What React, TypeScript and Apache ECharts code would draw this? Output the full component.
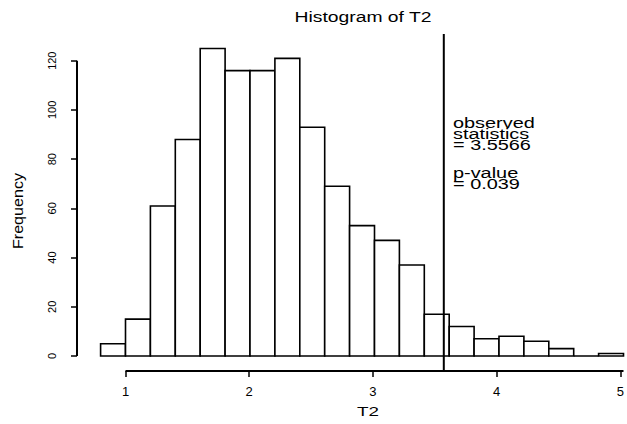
import React, { useEffect, useRef } from "react";
import * as echarts from "echarts";

// Histogram bins (T2) and counts
const binEdges = [0.8, 1.0, 1.2, 1.4, 1.6, 1.8, 2.0, 2.2, 2.4, 2.6, 2.8, 3.0, 3.2, 3.4, 3.6, 3.8, 4.0, 4.2, 4.4, 4.6, 4.8, 5.0];
const frequencies = [5, 15, 61, 88, 125, 116, 116, 121, 93, 69, 53, 47, 37, 17, 12, 7, 8, 6, 3, 0, 1];
const observedStatistic = 3.5566;
const xTicks = [1, 2, 3, 4, 5];
const yTicks = [0, 20, 40, 60, 80, 100, 120];
const titleText = "Histogram of T2";
const xLabel = "T2";
const yLabel = "Frequency";
const annotationLines = ["observed", "statistics", "= 3.5566", "p-value", "= 0.039"];

const FONT = "'Liberation Sans', Arial, Helvetica, sans-serif";

// main grid data range (slightly larger than the plot box so lines are not on its edges)
const X_MIN = 0.55422;
const X_MAX = 5.0281;
const Y_MIN = -9.35;
const Y_MAX = 130.9;
// plot box (R style) in data units
const BOX_X = 0.61044;
const BOX_Y = -6.1;

export default function App() {
  const ref = useRef<HTMLDivElement>(null);
  useEffect(() => {
    document.body.style.margin = "0";
    if (!ref.current) return;
    const chart = echarts.init(ref.current, null, { renderer: "svg" });

    const histData = frequencies.map((f, i) => [binEdges[i], binEdges[i + 1], f]);
    const annotY = [123.5, 134.5, 145.5, 173.5, 184.5];
    const lineSegments = [
      [xTicks[0], BOX_Y, xTicks[xTicks.length - 1], BOX_Y, 2],
      [BOX_X, yTicks[0], BOX_X, yTicks[yTicks.length - 1], 2],
      [observedStatistic, BOX_Y, observedStatistic, Y_MAX, 2],
    ];

    const option: any = {
      animation: false,
      grid: [
        { left: 70, right: 0, top: 34, bottom: 45 },
        { left: 125.5, width: 498, top: 300, bottom: 53 },
        { left: 77, width: 10, top: 60.7, bottom: 68 },
      ],
      xAxis: [
        { gridIndex: 0, type: "value", min: X_MIN, max: X_MAX, show: false },
        {
          gridIndex: 1,
          type: "value",
          min: xTicks[0],
          max: xTicks[xTicks.length - 1],
          interval: 1,
          axisLine: { show: false },
          axisTick: { show: true, length: 6, lineStyle: { color: "#000", width: 1.5 } },
          axisLabel: { color: "#000", fontSize: 13, fontFamily: FONT, margin: 14 },
          splitLine: { show: false },
        },
        { gridIndex: 2, type: "value", min: 0, max: 1, show: false },
      ],
      yAxis: [
        { gridIndex: 0, type: "value", min: Y_MIN, max: Y_MAX, show: false },
        { gridIndex: 1, type: "value", min: 0, max: 1, show: false },
        {
          gridIndex: 2,
          type: "value",
          min: yTicks[0],
          max: yTicks[yTicks.length - 1],
          interval: 20,
          axisLine: { show: false },
          axisTick: { show: true, length: 6, lineStyle: { color: "#000", width: 1.5 } },
          axisLabel: { color: "#000", fontSize: 11, fontFamily: FONT, rotate: 90, margin: 20 },
          splitLine: { show: false },
        },
      ],
      series: [
        {
          type: "custom",
          xAxisIndex: 0,
          yAxisIndex: 0,
          data: histData,
          encode: { x: [0, 1], y: 2 },
          clip: false,
          renderItem: (params: any, api: any) => {
            const p0 = api.coord([api.value(0), api.value(2)]);
            const p1 = api.coord([api.value(1), 0]);
            return {
              type: "rect",
              shape: { x: p0[0], y: p0[1], width: p1[0] - p0[0], height: p1[1] - p0[1] },
              style: { fill: "#fff", stroke: "#000", lineWidth: 1.6 },
            };
          },
        },
        {
          type: "custom",
          xAxisIndex: 0,
          yAxisIndex: 0,
          data: lineSegments,
          encode: { x: [0, 2], y: [1, 3] },
          clip: false,
          silent: true,
          renderItem: (params: any, api: any) => {
            const a = api.coord([api.value(0), api.value(1)]);
            const b = api.coord([api.value(2), api.value(3)]);
            return {
              type: "line",
              shape: { x1: a[0], y1: a[1], x2: b[0], y2: b[1] },
              style: { stroke: "#000", lineWidth: api.value(4) },
            };
          },
        },
      ],
      graphic: [
        {
          type: "text",
          x: 363,
          y: 17,
          scaleX: 1.38,
          style: { text: titleText, fill: "#000", font: `14px ${FONT}`, align: "center", verticalAlign: "middle" },
        },
        {
          type: "text",
          x: 368,
          y: 411.5,
          scaleX: 1.45,
          style: { text: xLabel, fill: "#000", font: `13px ${FONT}`, align: "center", verticalAlign: "middle" },
        },
        {
          type: "text",
          x: 18,
          y: 211,
          rotation: Math.PI / 2,
          scaleX: 1.15,
          style: { text: yLabel, fill: "#000", font: `14px ${FONT}`, align: "center", verticalAlign: "middle" },
        },
        ...annotationLines.map((t, i) => ({
          type: "text",
          x: 453,
          y: annotY[i],
          scaleX: 1.42,
          style: { text: t, fill: "#000", font: `14px ${FONT}`, align: "left", verticalAlign: "middle" },
        })),
      ],
    };
    chart.setOption(option);
    return () => chart.dispose();
  }, []);
  return (
    <div
      ref={ref}
      style={{ width: 627, height: 424, position: "fixed", left: 0, top: 0, background: "#fff" }}
    />
  );
}
